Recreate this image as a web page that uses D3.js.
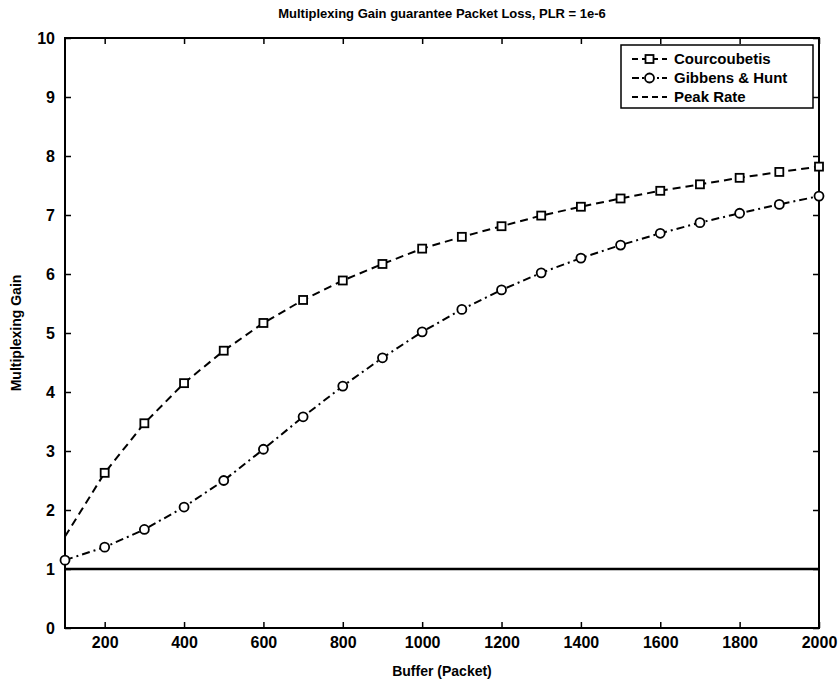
<!DOCTYPE html>
<html>
<head>
<meta charset="utf-8">
<script src="https://cdn.jsdelivr.net/npm/d3@7"></script>
<style>
  body { margin: 0; background: #fff; }
  svg { font-family: "Liberation Sans", Arial, sans-serif; font-weight: bold; }
</style>
</head>
<body>
<svg id="chart" width="840" height="688"></svg>
<script>

// buffer sizes (packets)
let buffer = [100, 200, 300, 400, 500, 600, 700, 800, 900, 1000,
              1100, 1200, 1300, 1400, 1500, 1600, 1700, 1800, 1900, 2000]

let courcoubetis = [1.55, 2.63, 3.47, 4.15, 4.70, 5.17, 5.56, 5.89, 6.17, 6.43,
                    6.63, 6.81, 6.99, 7.14, 7.28, 7.41, 7.52, 7.63, 7.73, 7.82]

let gibbensHunt = [1.15, 1.37, 1.67, 2.05, 2.50, 3.03, 3.58, 4.10, 4.58, 5.02,
                   5.40, 5.73, 6.02, 6.27, 6.49, 6.69, 6.87, 7.03, 7.18, 7.32]

let peakRate = 1

let xTicks = [200, 400, 600, 800, 1000, 1200, 1400, 1600, 1800, 2000]
let yTicks = [0, 1, 2, 3, 4, 5, 6, 7, 8, 9, 10]

let legendLabels = ["Courcoubetis", "Gibbens & Hunt", "Peak Rate"]


function drawChart(){
    let svg = d3.select("#chart")

    let left = 65, right = 819, top = 38, bottom = 628

    let xScale = d3.scaleLinear()
        .domain([100, 2000])
        .range([left, right])

    let yScale = d3.scaleLinear()
        .domain([0, 10])
        .range([bottom, top])

    // ticks inside the box, MATLAB style
    let xAxisB = d3.axisBottom(xScale).tickValues(xTicks).tickSize(-6).tickPadding(9).tickFormat(d3.format("d"))
    let xAxisT = d3.axisTop(xScale).tickValues(xTicks).tickSize(-6).tickFormat("")
    let yAxisL = d3.axisLeft(yScale).tickValues(yTicks).tickSize(-6).tickPadding(10)
    let yAxisR = d3.axisRight(yScale).tickValues(yTicks).tickSize(-6).tickFormat("")

    svg.append("g").attr("transform", "translate(0," + bottom + ")").call(xAxisB)
    svg.append("g").attr("transform", "translate(0," + top + ")").call(xAxisT)
    svg.append("g").attr("transform", "translate(" + left + ",0)").call(yAxisL)
    svg.append("g").attr("transform", "translate(" + right + ",0)").call(yAxisR)

    svg.selectAll(".domain").remove()
    svg.selectAll(".tick line").attr("stroke", "#000").attr("stroke-width", 1.5)
    svg.selectAll(".tick text")
        .attr("fill", "#000")
        .style("font-size", "16px")
        .style("font-weight", "bold")
        .style("font-family", "'Liberation Sans', Arial, sans-serif")

    svg.append("rect")
        .attr("x", left).attr("y", top)
        .attr("width", right - left).attr("height", bottom - top)
        .attr("fill", "none")
        .attr("stroke", "#000")
        .attr("stroke-width", 2)

    // peak rate line
    svg.append("line")
        .attr("x1", xScale(100)).attr("x2", xScale(2000))
        .attr("y1", yScale(peakRate)).attr("y2", yScale(peakRate))
        .attr("stroke", "#000")
        .attr("stroke-width", 2.5)

    let line = d3.line()
        .x(d => xScale(d[0]))
        .y(d => yScale(d[1]))

    let cData = buffer.map((b, i) => [b, courcoubetis[i]])
    let gData = buffer.map((b, i) => [b, gibbensHunt[i]])

    svg.append("path")
        .datum(cData)
        .attr("d", line)
        .attr("fill", "none")
        .attr("stroke", "#000")
        .attr("stroke-width", 2)
        .attr("stroke-dasharray", "8,5")

    svg.append("path")
        .datum(gData)
        .attr("d", line)
        .attr("fill", "none")
        .attr("stroke", "#000")
        .attr("stroke-width", 2)
        .attr("stroke-dasharray", "8,4,2,4")

    svg.selectAll(".sq")
        .data(cData.filter(d => d[0] > 100))
        .enter()
        .append("rect")
        .attr("class", "sq")
        .attr("x", d => xScale(d[0]) - 4)
        .attr("y", d => yScale(d[1]) - 4)
        .attr("width", 8).attr("height", 8)
        .attr("fill", "#fff")
        .attr("stroke", "#000")
        .attr("stroke-width", 1.8)

    svg.selectAll(".ci")
        .data(gData)
        .enter()
        .append("circle")
        .attr("class", "ci")
        .attr("cx", d => xScale(d[0]))
        .attr("cy", d => yScale(d[1]))
        .attr("r", 4.5)
        .attr("fill", "#fff")
        .attr("stroke", "#000")
        .attr("stroke-width", 1.8)

    // titles
    svg.append("text")
        .attr("x", (left + right) / 2)
        .attr("y", 18)
        .attr("text-anchor", "middle")
        .style("font-size", "13px")
        .text("Multiplexing Gain guarantee Packet Loss, PLR = 1e-6")

    svg.append("text")
        .attr("x", (left + right) / 2)
        .attr("y", 676)
        .attr("text-anchor", "middle")
        .style("font-size", "14px")
        .text("Buffer (Packet)")

    svg.append("text")
        .attr("transform", "translate(21," + (top + bottom) / 2 + ") rotate(-90)")
        .attr("text-anchor", "middle")
        .style("font-size", "14px")
        .text("Multiplexing Gain")

    // legend
    let lg = svg.append("g").attr("transform", "translate(621,45)")
    lg.append("rect")
        .attr("width", 192).attr("height", 63)
        .attr("fill", "#fff")
        .attr("stroke", "#000")
        .attr("stroke-width", 1.5)

    let rows = lg.selectAll(".row")
        .data(legendLabels)
        .enter()
        .append("g")
        .attr("transform", (d, i) => "translate(0," + (14 + i * 19) + ")")

    rows.append("line")
        .attr("x1", 11).attr("x2", 46)
        .attr("stroke", "#000")
        .attr("stroke-width", 2)
        .attr("stroke-dasharray", (d, i) => i == 1 ? "7,3,2,3" : "6,4")

    rows.filter((d, i) => i == 0).append("rect")
        .attr("x", 24.5).attr("y", -4).attr("width", 8).attr("height", 8)
        .attr("fill", "#fff").attr("stroke", "#000").attr("stroke-width", 1.8)

    rows.filter((d, i) => i == 1).append("circle")
        .attr("cx", 28.5).attr("r", 4.5)
        .attr("fill", "#fff").attr("stroke", "#000").attr("stroke-width", 1.8)

    rows.append("text")
        .attr("x", 53)
        .attr("dy", "0.35em")
        .style("font-size", "15px")
        .text(d => d)
}

drawChart()
</script>
</body>
</html>
